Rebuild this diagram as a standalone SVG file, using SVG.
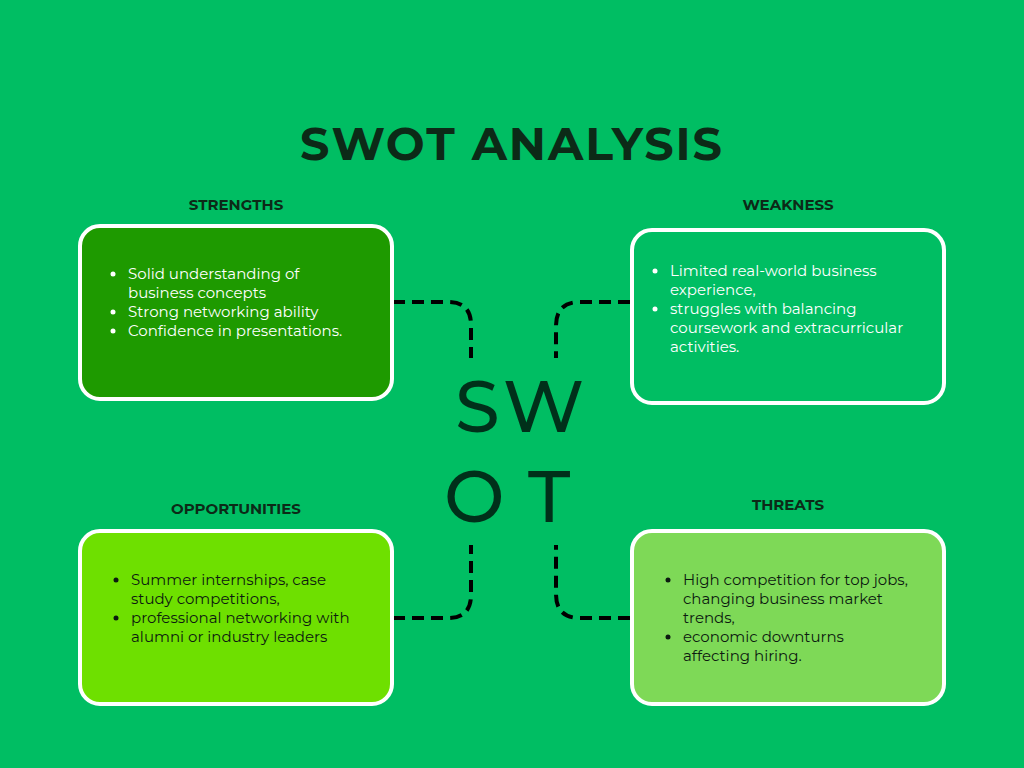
<svg xmlns="http://www.w3.org/2000/svg" width="1024" height="768" viewBox="0 0 1024 768">
<style>
.box{stroke:#fff;stroke-width:4}
.h{font-family:"Montserrat","Inter","Liberation Sans",sans-serif;font-weight:700;fill:#0c2a17}
.t{font-family:"Montserrat","Inter","Liberation Sans",sans-serif;font-size:15px}
.big{font-family:"Montserrat","Inter","Liberation Sans",sans-serif;font-weight:500;font-size:72px;fill:#00301a}
.c{fill:none;stroke:#000;stroke-width:4;stroke-dasharray:12 7}
</style>
<rect width="1024" height="768" fill="#00be63"/>
<text class="h" x="512" y="160" font-size="46" text-anchor="middle" letter-spacing="2">SWOT ANALYSIS</text>
<g id="connectors">
<path class="c" d="M393 302 H448 Q471 302 471 325 V358"/>
<path class="c" d="M630 302 H580 Q556 302 556 326 V358"/>
<path class="c" d="M393 618 H448 Q471 618 471 595 V545"/>
<path class="c" d="M630 618 H580 Q556 618 556 594 V545"/>
</g>
<g id="center">
<text class="big" x="455" y="432">S</text>
<text class="big" x="503" y="432">W</text>
<text class="big" x="444" y="522">O</text>
<text class="big" x="528" y="522">T</text>
</g>
<g id="strengths">
<text class="h" x="236" y="210" font-size="15" text-anchor="middle">STRENGTHS</text>
<rect class="box" x="80" y="226" width="312" height="173" rx="20" fill="#1e9a00"/>
<g class="t" fill="#fff">
<circle cx="113" cy="274" r="2.5"/><text x="128" y="279">Solid understanding of</text>
<text x="128" y="298">business concepts</text>
<circle cx="113" cy="312" r="2.5"/><text x="128" y="317">Strong networking ability</text>
<circle cx="113" cy="331" r="2.5"/><text x="128" y="336">Confidence in presentations.</text>
</g>
</g>
<g id="weakness">
<text class="h" x="788" y="210" font-size="15" text-anchor="middle">WEAKNESS</text>
<rect class="box" x="632" y="230" width="312" height="173" rx="20" fill="#00be63"/>
<g class="t" fill="#fff">
<circle cx="655" cy="271" r="2.5"/><text x="670" y="276">Limited real-world business</text>
<text x="670" y="295">experience,</text>
<circle cx="655" cy="309" r="2.5"/><text x="670" y="314">struggles with balancing</text>
<text x="670" y="333">coursework and extracurricular</text>
<text x="670" y="352">activities.</text>
</g>
</g>
<g id="opportunities">
<text class="h" x="236" y="514" font-size="15" text-anchor="middle">OPPORTUNITIES</text>
<rect class="box" x="80" y="531" width="312" height="173" rx="20" fill="#6ee000"/>
<g class="t" fill="#0c1a10">
<circle cx="116" cy="580" r="2.5"/><text x="131" y="585">Summer internships, case</text>
<text x="131" y="604">study competitions,</text>
<circle cx="116" cy="618" r="2.5"/><text x="131" y="623">professional networking with</text>
<text x="131" y="642">alumni or industry leaders</text>
</g>
</g>
<g id="threats">
<text class="h" x="788" y="510" font-size="15" text-anchor="middle">THREATS</text>
<rect class="box" x="632" y="531" width="312" height="173" rx="20" fill="#7ed957"/>
<g class="t" fill="#0c1a10">
<circle cx="668" cy="580" r="2.5"/><text x="683" y="585">High competition for top jobs,</text>
<text x="683" y="604">changing business market</text>
<text x="683" y="623">trends,</text>
<circle cx="668" cy="637" r="2.5"/><text x="683" y="642">economic downturns</text>
<text x="683" y="661">affecting hiring.</text>
</g>
</g>
</svg>
